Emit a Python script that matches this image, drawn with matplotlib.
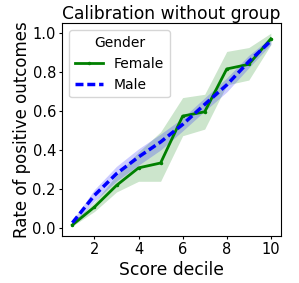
import matplotlib
matplotlib.use("Agg")
import matplotlib.pyplot as plt

deciles = [1, 2, 3, 4, 5, 6, 7, 8, 9, 10]

female = [0.015, 0.107, 0.218, 0.308, 0.333, 0.574, 0.596, 0.816, 0.840, 0.971]
female_lo = [0.009, 0.084, 0.184, 0.239, 0.239, 0.473, 0.507, 0.734, 0.759, 0.940]
female_hi = [0.030, 0.132, 0.270, 0.390, 0.493, 0.669, 0.686, 0.906, 0.926, 1.000]

male = [0.026, 0.167, 0.278, 0.364, 0.441, 0.531, 0.634, 0.734, 0.854, 0.960]
male_lo = [0.014, 0.137, 0.240, 0.322, 0.400, 0.498, 0.600, 0.698, 0.822, 0.942]
male_hi = [0.038, 0.197, 0.316, 0.406, 0.482, 0.564, 0.668, 0.770, 0.886, 0.978]

fig, ax = plt.subplots(figsize=(2.99, 2.83), dpi=100)

ax.fill_between(deciles, female_lo, female_hi, color="green", alpha=0.2, linewidth=0)
ax.plot(deciles, female, color="green", linestyle="-", linewidth=2,
        marker=".", markersize=3, label="Female")
ax.fill_between(deciles, male_lo, male_hi, color="blue", alpha=0.2, linewidth=0)
ax.plot(deciles, male, color="blue", linestyle=(0, (2.3, 1.1)), linewidth=2.5, label="Male")

ax.set_xticks([2, 4, 6, 8, 10])
ax.set_yticks([0.0, 0.2, 0.4, 0.6, 0.8, 1.0])
ax.tick_params(labelsize=10.5, length=2.5, pad=2.2)
ax.set_title("Calibration without group", fontsize=12.3, pad=3.2)
ax.set_xlabel("Score decile", fontsize=12.3, labelpad=3)
ax.set_ylabel("Rate of positive outcomes", fontsize=12, labelpad=1)
leg = ax.legend(title="Gender", fontsize=10, title_fontsize=10, loc="upper left")

fig.subplots_adjust(left=0.209, right=0.939, top=0.917, bottom=0.167)
fig.savefig("out.png", dpi=100)
